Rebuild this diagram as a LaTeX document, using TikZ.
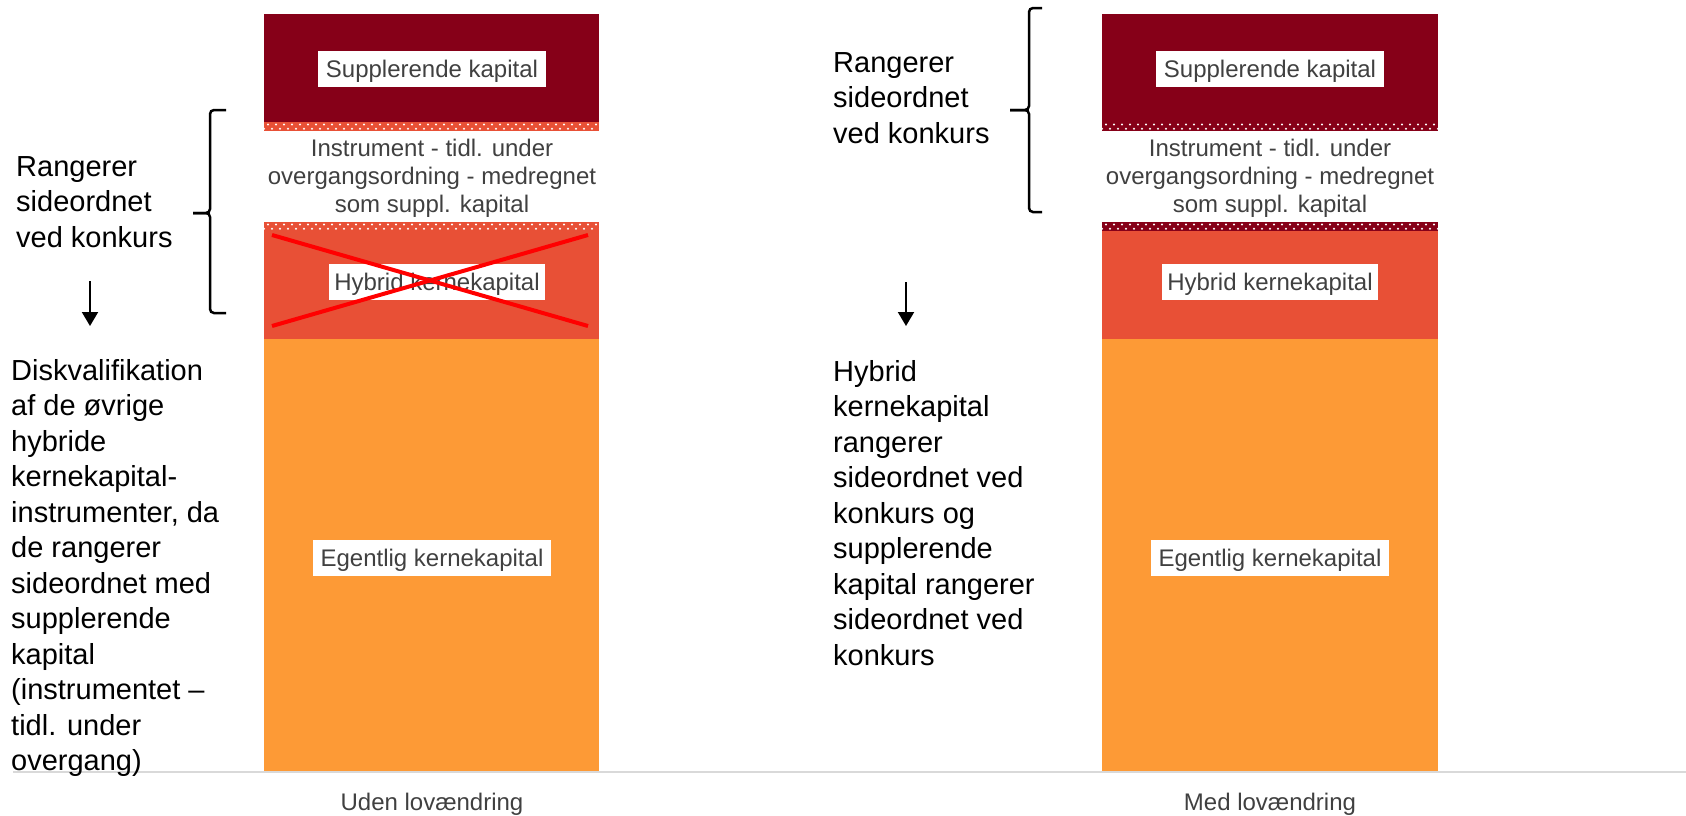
\documentclass[tikz,border=0pt]{standalone}
\usepackage{fontspec}
\setmainfont{Liberation Sans}
\usetikzlibrary{arrows.meta}

\definecolor{suppred}{HTML}{860018}
\definecolor{hybridred}{HTML}{E85036}
\definecolor{egenorange}{HTML}{FD9A36}
\definecolor{txtgray}{HTML}{404040}
\definecolor{axisgray}{HTML}{D9D9D9}

\newcommand{\dotband}[3]{% x-left, x-right, y-top
  \begin{scope}
    \clip (#1,#3) rectangle (#2,#3+9);
    \foreach \i in {0,...,42} {
      \fill [white] (#1+4+8*\i,#3+2.5) circle (1.1pt);
      \fill [white] (#1+8*\i,#3+6.8) circle (1.1pt);
    }
  \end{scope}}

\tikzset{
  lbl/.style={fill=white, text=txtgray, font=\fontsize{24}{28}\selectfont, inner xsep=8pt, inner ysep=9.5pt, text height=17pt, text depth=0pt},
  grytxt/.style={text=txtgray, font=\fontsize{24}{28}\selectfont, align=center, inner sep=0pt},
  note/.style={font=\fontsize{29}{35.5}\selectfont, align=left, anchor=north west, inner sep=0pt},
  brk/.style={line width=2.5pt, rounded corners=4pt},
  arr/.style={line width=2pt, -{Triangle[length=14pt,width=16pt]}},
}

\begin{document}
\begin{tikzpicture}[x=1pt,y=-1pt]
\useasboundingbox (0,0) rectangle (1686,815);

% Uden lovaendring
\fill [suppred] (264,14) rectangle (599,122);
\fill [hybridred] (264,122) rectangle (599,131);
\dotband{264}{599}{122}
\fill [hybridred] (264,222) rectangle (599,339);
\dotband{264}{599}{222}
\fill [egenorange] (264,339) rectangle (599,771);

% Med lovaendring
\fill [suppred] (1102,14) rectangle (1438,131);
\dotband{1102}{1438}{122}
\fill [suppred] (1102,222) rectangle (1438,231);
\dotband{1102}{1438}{222}
\fill [hybridred] (1102,231) rectangle (1438,339);
\fill [egenorange] (1102,339) rectangle (1438,771);

\draw [axisgray,line width=1.5pt] (13,772) -- (1686,772);

% labels in the bars
\node [lbl] (suppL) at (432,68.5) {Supplerende kapital};
\node [grytxt] (instrL) at (432,178) {Instrument - tidl. under\\overgangsordning - medregnet\\som suppl. kapital};
\node [lbl,inner xsep=5pt] (hybL) at (437,282) {Hybrid kernekapital};
\node [lbl] (egenL) at (432,558) {Egentlig kernekapital};

\node [lbl] (suppR) at (1270,68.5) {Supplerende kapital};
\node [grytxt] (instrR) at (1270,178) {Instrument - tidl. under\\overgangsordning - medregnet\\som suppl. kapital};
\node [lbl,inner xsep=5pt] (hybR) at (1270,282) {Hybrid kernekapital};
\node [lbl] (egenR) at (1270,558) {Egentlig kernekapital};

% cross over hybrid
\coordinate (xa) at (272,235);
\coordinate (xb) at (588,326);
\coordinate (xc) at (272,326);
\coordinate (xd) at (588,235);
\draw [red,line width=4pt] (xa) -- (xb);
\draw [red,line width=4pt] (xc) -- (xd);

% brackets
\draw [brk] (226,110) -- (210,110) -- (210,213) -- (193,213);
\draw [brk] (193,213) -- (210,213) -- (210,313) -- (226,313);
\draw [brk] (1042,8) -- (1029,8) -- (1029,110) -- (1010,110);
\draw [brk] (1010,110) -- (1029,110) -- (1029,212) -- (1042,212);

% side texts
\node [note] (rankL) at (16,156) {Rangerer\\sideordnet\\ved konkurs};
\node [note] (diskL) at (11,359) {Diskvalifikation\\af de øvrige\\hybride\\kernekapital-\\instrumenter, da\\de rangerer\\sideordnet med\\supplerende\\kapital\\(instrumentet –\\tidl. under\\overgang)};
\node [note] (rankR) at (833,52) {Rangerer\\sideordnet\\ved konkurs};
\node [note] (hybtxtR) at (833,360) {Hybrid\\kernekapital\\rangerer\\sideordnet ved\\konkurs og\\supplerende\\kapital rangerer\\sideordnet ved\\konkurs};

\coordinate (arrLa) at (90,281);
\coordinate (arrLb) at (90,326);
\coordinate (arrRa) at (906,282);
\coordinate (arrRb) at (906,326);
\draw [arr] (arrLa) -- (arrLb);
\draw [arr] (arrRa) -- (arrRb);

% axis labels
\node [grytxt,anchor=base] (udenL) at (432,810) {Uden lovændring};
\node [grytxt,anchor=base] (medR) at (1270,810) {Med lovændring};

\end{tikzpicture}
\end{document}
